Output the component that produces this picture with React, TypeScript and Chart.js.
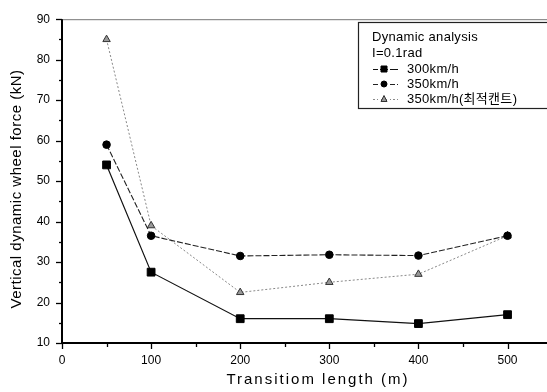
import React, { useEffect, useRef } from "react";
import { Chart, registerables } from "chart.js";
Chart.register(...registerables);

const lengths = [50, 100, 200, 300, 400, 500];
const force300 = [54, 27.5, 16, 16, 14.8, 17];
const force350 = [59, 36.5, 31.5, 31.8, 31.6, 36.5];
const force350opt = [85, 39, 22.5, 25, 27, 36.5];
const seriesLabels = ["300km/h", "350km/h", "350km/h(최적캔트)"];
const legendTitle = ["Dynamic analysis", "I=0.1rad"];
const xTickValues = [0, 100, 200, 300, 400, 500];
const yTickValues = [10, 20, 30, 40, 50, 60, 70, 80, 90];
const xTitle = "Transitiom length (m)";
const yTitle = "Vertical dynamic wheel force (kN)";

const FONT = "'Liberation Sans', Arial, sans-serif";

const decorPlugin = {
  id: "decor",
  afterDraw(chart: any) {
    const ctx = chart.ctx as CanvasRenderingContext2D;
    const ca = chart.chartArea;
    const xs = chart.scales.x;
    const ys = chart.scales.y;
    const W = chart.width;
    ctx.save();
    // top border
    ctx.strokeStyle = "#777";
    ctx.lineWidth = 1;
    ctx.beginPath();
    ctx.moveTo(ca.left, ca.top + 0.5);
    ctx.lineTo(W, ca.top + 0.5);
    ctx.stroke();
    // axes
    ctx.strokeStyle = "#000";
    ctx.lineWidth = 2;
    ctx.beginPath();
    ctx.moveTo(ca.left, ca.top);
    ctx.lineTo(ca.left, ca.bottom);
    ctx.lineTo(W, ca.bottom);
    ctx.stroke();
    // y ticks
    ctx.lineWidth = 1.3;
    for (let v = 10; v <= 90; v += 5) {
      const py = Math.round(ys.getPixelForValue(v)) + 0.5;
      const len = v % 10 === 0 ? 6 : 3;
      ctx.beginPath();
      ctx.moveTo(ca.left - len, py);
      ctx.lineTo(ca.left, py);
      ctx.stroke();
    }
    // x ticks
    for (let v = 0; v <= 550; v += 50) {
      const px = Math.round(xs.getPixelForValue(v)) + 0.5;
      const len = v % 100 === 0 ? 6 : 4;
      ctx.beginPath();
      ctx.moveTo(px, ca.bottom);
      ctx.lineTo(px, ca.bottom + len);
      ctx.stroke();
    }
    // axis titles
    ctx.fillStyle = "#000";
    ctx.font = `15px ${FONT}`;
    (ctx as any).letterSpacing = "2px";
    ctx.textAlign = "center";
    ctx.textBaseline = "middle";
    ctx.fillText(xTitle, 318, 380);
    (ctx as any).letterSpacing = "0.5px";
    ctx.save();
    ctx.translate(17, 189);
    ctx.rotate(-Math.PI / 2);
    ctx.fillText(yTitle, 0, 0);
    ctx.restore();
    (ctx as any).letterSpacing = "0px";

    // legend box
    ctx.fillStyle = "#fff";
    ctx.fillRect(358, 22, 200, 86);
    ctx.strokeStyle = "#222";
    ctx.lineWidth = 1.2;
    ctx.strokeRect(358.5, 22.5, 200, 86);
    ctx.fillStyle = "#000";
    ctx.textAlign = "left";
    ctx.font = `13px ${FONT}`;
    (ctx as any).letterSpacing = "0.3px";
    ctx.fillText(legendTitle[0], 372, 37);
    ctx.fillText(legendTitle[1], 372, 53);
    const rows = [69, 84, 99];
    chart.data.datasets.forEach((ds: any, i: number) => {
      const y = rows[i];
      ctx.save();
      ctx.strokeStyle = ds.borderColor;
      ctx.lineWidth = 1;
      ctx.setLineDash(ds.borderDash || []);
      ctx.beginPath();
      ctx.moveTo(373, y + 0.5);
      ctx.lineTo(398, y + 0.5);
      ctx.stroke();
      ctx.setLineDash([]);
      ctx.fillStyle = "#fff";
      ctx.fillRect(378, y - 4, 2, 8);
      ctx.fillRect(388, y - 4, 2, 8);
      ctx.fillStyle = ds.pointBackgroundColor;
      ctx.strokeStyle = ds.pointBorderColor;
      ctx.lineWidth = 1;
      const r = 3;
      ctx.beginPath();
      if (ds.pointStyle === "rect") {
        ctx.rect(384 - r, y - r, 2 * r, 2 * r);
      } else if (ds.pointStyle === "circle") {
        ctx.arc(384, y, r, 0, Math.PI * 2);
      } else {
        ctx.moveTo(384, y - r - 0.5);
        ctx.lineTo(384 + r, y + r - 0.5);
        ctx.lineTo(384 - r, y + r - 0.5);
        ctx.closePath();
      }
      ctx.fill();
      ctx.stroke();
      ctx.restore();
      ctx.fillStyle = "#000";
      ctx.font = `13px ${FONT}, 'Noto Sans CJK KR'`;
      ctx.fillText(ds.label, 407, y);
    });
    ctx.restore();
  },
};

export default function App() {
  const ref = useRef<HTMLCanvasElement>(null);
  useEffect(() => {
    document.body.style.margin = "0";
    const canvas = ref.current!;
    const mk = (arr: number[]) => lengths.map((x, i) => ({ x, y: arr[i] }));
    const chart = new Chart(canvas, {
      type: "line",
      data: {
        datasets: [
          {
            label: seriesLabels[0],
            data: mk(force300),
            borderColor: "#111",
            borderWidth: 1.2,
            pointStyle: "rect",
            pointRadius: 5.5,
            pointBackgroundColor: "#000",
            pointBorderColor: "#000",
            pointBorderWidth: 1,
          },
          {
            label: seriesLabels[1],
            data: mk(force350),
            borderColor: "#222",
            borderWidth: 1.1,
            borderDash: [6, 2],
            pointStyle: "circle",
            pointRadius: 3.8,
            pointBackgroundColor: "#000",
            pointBorderColor: "#000",
            pointBorderWidth: 1,
          },
          {
            label: seriesLabels[2],
            data: mk(force350opt),
            borderColor: "#888",
            borderWidth: 1,
            borderDash: [2, 2],
            pointStyle: "triangle",
            pointRadius: 4.3,
            pointBackgroundColor: "#999",
            pointBorderColor: "#333",
            pointBorderWidth: 1,
          },
        ],
      },
      options: {
        animation: false,
        responsive: false,
        devicePixelRatio: 1,
        layout: { padding: { top: 18, right: 0, left: 0, bottom: 0 } },
        plugins: { legend: { display: false }, tooltip: { enabled: false } },
        scales: {
          x: {
            type: "linear",
            min: 0,
            max: 537,
            grid: { display: true, drawOnChartArea: false, drawTicks: false },
            border: { display: false },
            ticks: {
              padding: 10,
              color: "#000",
              font: { family: FONT, size: 12 },
            },
            afterBuildTicks: (s: any) => {
              s.ticks = xTickValues.map((v) => ({ value: v }));
            },
            afterFit: (s: any) => {
              s.height = 49;
            },
          },
          y: {
            min: 10,
            max: 90,
            grid: { display: true, drawOnChartArea: false, drawTicks: false },
            border: { display: false },
            ticks: {
              padding: 12,
              color: "#000",
              font: { family: FONT, size: 12 },
            },
            afterBuildTicks: (s: any) => {
              s.ticks = yTickValues.map((v) => ({ value: v }));
            },
            afterFit: (s: any) => {
              s.width = 62;
            },
          },
        },
      },
      plugins: [decorPlugin],
    } as any);
    return () => chart.destroy();
  }, []);
  return (
    <div style={{ width: 547, height: 392, overflow: "hidden", background: "#fff" }}>
      <canvas ref={ref} width={547} height={392} style={{ display: "block" }} />
    </div>
  );
}
